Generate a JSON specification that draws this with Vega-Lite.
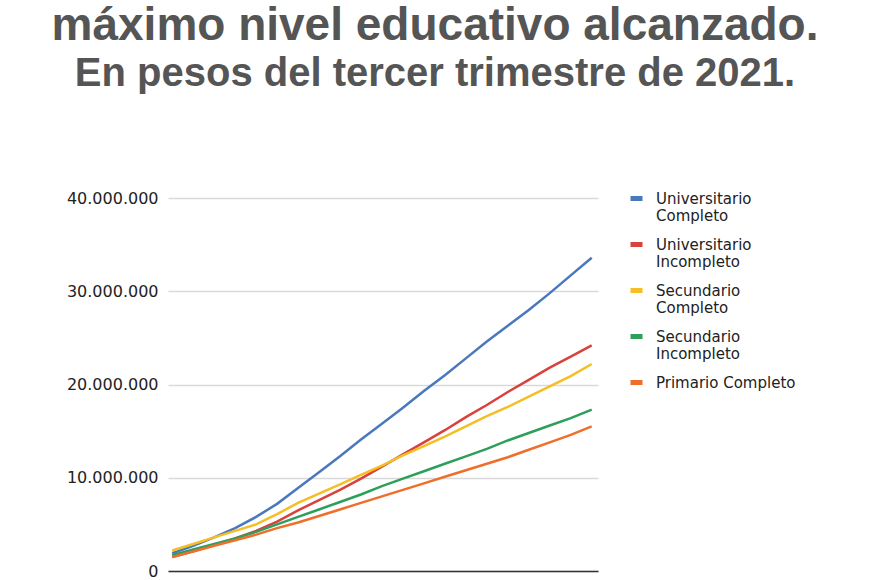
{
  "$schema": "https://vega.github.io/schema/vega-lite/v6.json",
  "autosize": "none",
  "width": 430,
  "height": 373,
  "padding": {"left": 168, "top": 198, "right": 272, "bottom": 9},
  "background": "white",
  "title": {
    "text": "máximo nivel educativo alcanzado.",
    "subtitle": "En pesos del tercer trimestre de 2021.",
    "anchor": "middle",
    "frame": "group",
    "dx": 52,
    "offset": 95,
    "font": "Liberation Sans",
    "fontSize": 46,
    "fontWeight": "bold",
    "color": "#555555",
    "subtitleFont": "Liberation Sans",
    "subtitleFontSize": 40,
    "subtitleFontWeight": "bold",
    "subtitleColor": "#555555",
    "subtitlePadding": 4
  },
  "config": {"view": {"stroke": null}},
  "data": {
    "values": [
      {"t": 0, "nivel": "Universitario Completo", "valor": 1900000},
      {"t": 1, "nivel": "Universitario Completo", "valor": 2700000},
      {"t": 2, "nivel": "Universitario Completo", "valor": 3600000},
      {"t": 3, "nivel": "Universitario Completo", "valor": 4600000},
      {"t": 4, "nivel": "Universitario Completo", "valor": 5800000},
      {"t": 5, "nivel": "Universitario Completo", "valor": 7200000},
      {"t": 6, "nivel": "Universitario Completo", "valor": 8900000},
      {"t": 7, "nivel": "Universitario Completo", "valor": 10600000},
      {"t": 8, "nivel": "Universitario Completo", "valor": 12300000},
      {"t": 9, "nivel": "Universitario Completo", "valor": 14100000},
      {"t": 10, "nivel": "Universitario Completo", "valor": 15800000},
      {"t": 11, "nivel": "Universitario Completo", "valor": 17500000},
      {"t": 12, "nivel": "Universitario Completo", "valor": 19300000},
      {"t": 13, "nivel": "Universitario Completo", "valor": 21000000},
      {"t": 14, "nivel": "Universitario Completo", "valor": 22800000},
      {"t": 15, "nivel": "Universitario Completo", "valor": 24600000},
      {"t": 16, "nivel": "Universitario Completo", "valor": 26300000},
      {"t": 17, "nivel": "Universitario Completo", "valor": 28000000},
      {"t": 18, "nivel": "Universitario Completo", "valor": 29800000},
      {"t": 19, "nivel": "Universitario Completo", "valor": 31700000},
      {"t": 20, "nivel": "Universitario Completo", "valor": 33600000},
      {"t": 0, "nivel": "Universitario Incompleto", "valor": 1500000},
      {"t": 1, "nivel": "Universitario Incompleto", "valor": 2100000},
      {"t": 2, "nivel": "Universitario Incompleto", "valor": 2800000},
      {"t": 3, "nivel": "Universitario Incompleto", "valor": 3500000},
      {"t": 4, "nivel": "Universitario Incompleto", "valor": 4300000},
      {"t": 5, "nivel": "Universitario Incompleto", "valor": 5300000},
      {"t": 6, "nivel": "Universitario Incompleto", "valor": 6500000},
      {"t": 7, "nivel": "Universitario Incompleto", "valor": 7600000},
      {"t": 8, "nivel": "Universitario Incompleto", "valor": 8700000},
      {"t": 9, "nivel": "Universitario Incompleto", "valor": 9900000},
      {"t": 10, "nivel": "Universitario Incompleto", "valor": 11200000},
      {"t": 11, "nivel": "Universitario Incompleto", "valor": 12500000},
      {"t": 12, "nivel": "Universitario Incompleto", "valor": 13800000},
      {"t": 13, "nivel": "Universitario Incompleto", "valor": 15100000},
      {"t": 14, "nivel": "Universitario Incompleto", "valor": 16500000},
      {"t": 15, "nivel": "Universitario Incompleto", "valor": 17800000},
      {"t": 16, "nivel": "Universitario Incompleto", "valor": 19200000},
      {"t": 17, "nivel": "Universitario Incompleto", "valor": 20500000},
      {"t": 18, "nivel": "Universitario Incompleto", "valor": 21800000},
      {"t": 19, "nivel": "Universitario Incompleto", "valor": 23000000},
      {"t": 20, "nivel": "Universitario Incompleto", "valor": 24200000},
      {"t": 0, "nivel": "Secundario Completo", "valor": 2200000},
      {"t": 1, "nivel": "Secundario Completo", "valor": 2900000},
      {"t": 2, "nivel": "Secundario Completo", "valor": 3600000},
      {"t": 3, "nivel": "Secundario Completo", "valor": 4300000},
      {"t": 4, "nivel": "Secundario Completo", "valor": 5000000},
      {"t": 5, "nivel": "Secundario Completo", "valor": 6100000},
      {"t": 6, "nivel": "Secundario Completo", "valor": 7300000},
      {"t": 7, "nivel": "Secundario Completo", "valor": 8300000},
      {"t": 8, "nivel": "Secundario Completo", "valor": 9300000},
      {"t": 9, "nivel": "Secundario Completo", "valor": 10300000},
      {"t": 10, "nivel": "Secundario Completo", "valor": 11300000},
      {"t": 11, "nivel": "Secundario Completo", "valor": 12400000},
      {"t": 12, "nivel": "Secundario Completo", "valor": 13400000},
      {"t": 13, "nivel": "Secundario Completo", "valor": 14400000},
      {"t": 14, "nivel": "Secundario Completo", "valor": 15500000},
      {"t": 15, "nivel": "Secundario Completo", "valor": 16600000},
      {"t": 16, "nivel": "Secundario Completo", "valor": 17600000},
      {"t": 17, "nivel": "Secundario Completo", "valor": 18700000},
      {"t": 18, "nivel": "Secundario Completo", "valor": 19800000},
      {"t": 19, "nivel": "Secundario Completo", "valor": 20900000},
      {"t": 20, "nivel": "Secundario Completo", "valor": 22200000},
      {"t": 0, "nivel": "Secundario Incompleto", "valor": 1700000},
      {"t": 1, "nivel": "Secundario Incompleto", "valor": 2300000},
      {"t": 2, "nivel": "Secundario Incompleto", "valor": 2900000},
      {"t": 3, "nivel": "Secundario Incompleto", "valor": 3500000},
      {"t": 4, "nivel": "Secundario Incompleto", "valor": 4200000},
      {"t": 5, "nivel": "Secundario Incompleto", "valor": 5000000},
      {"t": 6, "nivel": "Secundario Incompleto", "valor": 5800000},
      {"t": 7, "nivel": "Secundario Incompleto", "valor": 6600000},
      {"t": 8, "nivel": "Secundario Incompleto", "valor": 7400000},
      {"t": 9, "nivel": "Secundario Incompleto", "valor": 8200000},
      {"t": 10, "nivel": "Secundario Incompleto", "valor": 9100000},
      {"t": 11, "nivel": "Secundario Incompleto", "valor": 9900000},
      {"t": 12, "nivel": "Secundario Incompleto", "valor": 10700000},
      {"t": 13, "nivel": "Secundario Incompleto", "valor": 11500000},
      {"t": 14, "nivel": "Secundario Incompleto", "valor": 12300000},
      {"t": 15, "nivel": "Secundario Incompleto", "valor": 13100000},
      {"t": 16, "nivel": "Secundario Incompleto", "valor": 14000000},
      {"t": 17, "nivel": "Secundario Incompleto", "valor": 14800000},
      {"t": 18, "nivel": "Secundario Incompleto", "valor": 15600000},
      {"t": 19, "nivel": "Secundario Incompleto", "valor": 16400000},
      {"t": 20, "nivel": "Secundario Incompleto", "valor": 17300000},
      {"t": 0, "nivel": "Primario Completo", "valor": 1500000},
      {"t": 1, "nivel": "Primario Completo", "valor": 2100000},
      {"t": 2, "nivel": "Primario Completo", "valor": 2700000},
      {"t": 3, "nivel": "Primario Completo", "valor": 3300000},
      {"t": 4, "nivel": "Primario Completo", "valor": 3900000},
      {"t": 5, "nivel": "Primario Completo", "valor": 4600000},
      {"t": 6, "nivel": "Primario Completo", "valor": 5200000},
      {"t": 7, "nivel": "Primario Completo", "valor": 5900000},
      {"t": 8, "nivel": "Primario Completo", "valor": 6600000},
      {"t": 9, "nivel": "Primario Completo", "valor": 7300000},
      {"t": 10, "nivel": "Primario Completo", "valor": 8000000},
      {"t": 11, "nivel": "Primario Completo", "valor": 8700000},
      {"t": 12, "nivel": "Primario Completo", "valor": 9400000},
      {"t": 13, "nivel": "Primario Completo", "valor": 10100000},
      {"t": 14, "nivel": "Primario Completo", "valor": 10800000},
      {"t": 15, "nivel": "Primario Completo", "valor": 11500000},
      {"t": 16, "nivel": "Primario Completo", "valor": 12200000},
      {"t": 17, "nivel": "Primario Completo", "valor": 13000000},
      {"t": 18, "nivel": "Primario Completo", "valor": 13800000},
      {"t": 19, "nivel": "Primario Completo", "valor": 14600000},
      {"t": 20, "nivel": "Primario Completo", "valor": 15500000}
    ]
  },
  "mark": {"type": "line", "strokeWidth": 2.5},
  "encoding": {
    "x": {
      "field": "t",
      "type": "quantitative",
      "scale": {"domain": [-0.2, 20.3], "nice": false, "zero": false},
      "axis": {"title": null, "labels": false, "ticks": false, "grid": false, "domainColor": "#333333", "domainWidth": 1.5}
    },
    "y": {
      "field": "valor",
      "type": "quantitative",
      "scale": {"domain": [0, 40000000], "nice": false},
      "axis": {
        "title": null,
        "values": [0, 10000000, 20000000, 30000000, 40000000],
        "labelExpr": "replace(replace(format(datum.value, ','), ',', '.'), ',', '.')",
        "domain": false,
        "ticks": false,
        "gridColor": "#d9d9d9",
        "gridWidth": 1.5,
        "labelFont": "DejaVu Sans",
        "labelFontSize": 16,
        "labelColor": "#222222",
        "labelPadding": 10
      }
    },
    "color": {
      "field": "nivel",
      "type": "nominal",
      "sort": null,
      "scale": {
        "domain": ["Universitario Completo", "Universitario Incompleto", "Secundario Completo", "Secundario Incompleto", "Primario Completo"],
        "range": ["#4a78bd", "#d9413c", "#f5be25", "#2e9e5b", "#ee6f2a"]
      },
      "legend": {
        "title": null,
        "orient": "none",
        "legendX": 460,
        "legendY": -8,
        "padding": 0,
        "symbolType": "stroke",
        "symbolStrokeWidth": 5,
        "symbolSize": 144,
        "labelFont": "DejaVu Sans",
        "labelFontSize": 15,
        "labelColor": "#222222",
        "labelOffset": 11,
        "labelBaseline": "middle",
        "rowPadding": 10,
        "labelExpr": "datum.label == 'Primario Completo' ? datum.label : split(datum.label, ' ')"
      }
    }
  }
}
